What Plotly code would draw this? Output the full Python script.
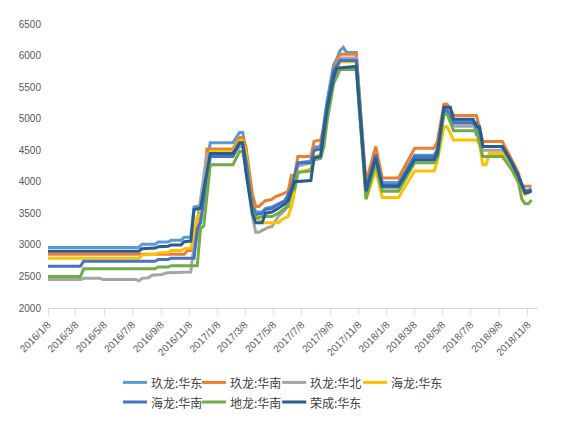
import plotly.graph_objects as go

# weekly prices, kept as (date, value) breakpoints
jiulong_east = [
    ("2016-01-08", 2960), ("2016-07-22", 2960), ("2016-07-29", 3010), ("2016-08-26", 3010),
    ("2016-09-02", 3045), ("2016-09-23", 3045), ("2016-09-30", 3075), ("2016-10-21", 3075),
    ("2016-10-28", 3120), ("2016-11-11", 3120), ("2016-11-18", 3600), ("2016-12-02", 3620),
    ("2016-12-23", 4620), ("2017-02-10", 4620), ("2017-02-24", 4780), ("2017-03-03", 4780),
    ("2017-03-10", 4500), ("2017-03-24", 3700), ("2017-03-31", 3520), ("2017-04-14", 3520),
    ("2017-04-21", 3580), ("2017-05-05", 3600), ("2017-05-19", 3650), ("2017-06-02", 3700),
    ("2017-06-16", 3850), ("2017-06-30", 4300), ("2017-07-28", 4330), ("2017-08-04", 4550),
    ("2017-08-18", 4560), ("2017-08-25", 4900), ("2017-09-01", 5280), ("2017-09-15", 5850),
    ("2017-09-22", 5950), ("2017-09-29", 6080), ("2017-10-06", 6130), ("2017-10-13", 6050),
    ("2017-11-03", 6050), ("2017-11-24", 3900), ("2017-12-15", 4430), ("2017-12-29", 3990),
    ("2018-02-02", 3990), ("2018-03-09", 4420), ("2018-04-20", 4420), ("2018-04-27", 4520),
    ("2018-05-11", 5150), ("2018-05-18", 5150), ("2018-06-01", 4950), ("2018-07-13", 4950),
    ("2018-07-20", 4750), ("2018-07-27", 4750), ("2018-08-03", 4560), ("2018-09-14", 4560),
    ("2018-10-05", 4280), ("2018-10-19", 4080), ("2018-11-02", 3840), ("2018-11-16", 3880),
]
jiulong_south = [
    ("2016-01-08", 2850), ("2016-10-28", 2850), ("2016-11-04", 2910), ("2016-11-18", 2910),
    ("2016-12-02", 3400), ("2016-12-16", 4520), ("2017-02-10", 4520), ("2017-02-24", 4700),
    ("2017-03-03", 4700), ("2017-03-10", 4550), ("2017-03-24", 3800), ("2017-03-31", 3610),
    ("2017-04-07", 3610), ("2017-04-14", 3660), ("2017-04-21", 3700), ("2017-05-05", 3720),
    ("2017-05-12", 3760), ("2017-05-26", 3800), ("2017-06-09", 3850), ("2017-06-16", 4100),
    ("2017-06-23", 4100), ("2017-06-30", 4400), ("2017-07-28", 4400), ("2017-08-04", 4640),
    ("2017-08-18", 4660), ("2017-08-25", 4850), ("2017-09-01", 5200), ("2017-09-15", 5750),
    ("2017-09-22", 5930), ("2017-09-29", 6020), ("2017-11-03", 6020), ("2017-11-24", 3990),
    ("2017-12-15", 4560), ("2017-12-29", 4060), ("2018-02-02", 4060), ("2018-03-09", 4530),
    ("2018-04-20", 4530), ("2018-04-27", 4640), ("2018-05-11", 5230), ("2018-05-18", 5230),
    ("2018-06-01", 5050), ("2018-07-20", 5050), ("2018-08-03", 4640), ("2018-09-14", 4640),
    ("2018-10-05", 4330), ("2018-10-19", 4140), ("2018-10-26", 3930), ("2018-11-16", 3930),
]
jiulong_north = [
    ("2016-01-08", 2450), ("2016-03-18", 2450), ("2016-03-25", 2470), ("2016-04-29", 2470),
    ("2016-05-06", 2450), ("2016-07-15", 2450), ("2016-07-22", 2430), ("2016-07-29", 2470),
    ("2016-08-12", 2480), ("2016-08-19", 2520), ("2016-09-09", 2530), ("2016-09-23", 2560),
    ("2016-11-11", 2570), ("2016-11-18", 3000), ("2016-12-16", 4450), ("2017-02-10", 4450),
    ("2017-02-24", 4550), ("2017-03-03", 4550), ("2017-03-10", 4200), ("2017-03-24", 3450),
    ("2017-03-31", 3200), ("2017-04-07", 3200), ("2017-04-14", 3230), ("2017-04-28", 3280),
    ("2017-05-05", 3290), ("2017-05-19", 3450), ("2017-06-02", 3550), ("2017-06-16", 3800),
    ("2017-06-30", 4250), ("2017-07-28", 4300), ("2017-08-04", 4500), ("2017-08-18", 4520),
    ("2017-08-25", 4800), ("2017-09-01", 5150), ("2017-09-15", 5700), ("2017-09-29", 5960),
    ("2017-11-03", 5960), ("2017-11-24", 3800), ("2017-12-15", 4350), ("2017-12-29", 3900),
    ("2018-02-02", 3900), ("2018-03-09", 4380), ("2018-04-20", 4380), ("2018-04-27", 4480),
    ("2018-05-11", 5080), ("2018-05-18", 5080), ("2018-06-01", 4880), ("2018-07-20", 4880),
    ("2018-08-03", 4500), ("2018-09-14", 4500), ("2018-10-05", 4250), ("2018-10-19", 4060),
    ("2018-11-02", 3830), ("2018-11-16", 3850),
]
hailong_east = [
    ("2016-01-08", 2790), ("2016-07-22", 2790), ("2016-07-29", 2840), ("2016-08-26", 2850),
    ("2016-09-02", 2870), ("2016-09-23", 2880), ("2016-09-30", 2910), ("2016-10-21", 2910),
    ("2016-10-28", 2940), ("2016-11-11", 2950), ("2016-11-25", 3450), ("2016-12-02", 3480),
    ("2016-12-23", 4480), ("2017-02-10", 4480), ("2017-02-24", 4650), ("2017-03-03", 4650),
    ("2017-03-10", 4450), ("2017-03-24", 3600), ("2017-03-31", 3450), ("2017-04-14", 3350),
    ("2017-05-19", 3350), ("2017-05-26", 3400), ("2017-06-09", 3450), ("2017-06-16", 3600),
    ("2017-06-23", 3850), ("2017-06-30", 4150), ("2017-07-28", 4200), ("2017-08-04", 4400),
    ("2017-08-18", 4420), ("2017-08-25", 4650), ("2017-09-01", 5050), ("2017-09-15", 5650),
    ("2017-09-29", 5900), ("2017-11-03", 5900), ("2017-11-24", 3720), ("2017-12-15", 4200),
    ("2017-12-29", 3750), ("2018-02-02", 3750), ("2018-03-09", 4170), ("2018-04-20", 4170),
    ("2018-04-27", 4330), ("2018-05-11", 4870), ("2018-05-18", 4870), ("2018-06-01", 4660),
    ("2018-07-20", 4660), ("2018-07-27", 4600), ("2018-08-03", 4270), ("2018-08-10", 4270),
    ("2018-08-17", 4450), ("2018-09-14", 4450), ("2018-10-05", 4180), ("2018-10-19", 4000),
    ("2018-11-02", 3800), ("2018-11-16", 3850),
]
hailong_south = [
    ("2016-01-08", 2660), ("2016-03-18", 2660), ("2016-03-25", 2740), ("2016-08-26", 2740),
    ("2016-09-02", 2770), ("2016-09-23", 2770), ("2016-09-30", 2790), ("2016-11-18", 2790),
    ("2016-11-25", 3250), ("2016-12-02", 3350), ("2016-12-23", 4400), ("2017-02-10", 4400),
    ("2017-02-24", 4600), ("2017-03-03", 4600), ("2017-03-10", 4350), ("2017-03-24", 3600),
    ("2017-03-31", 3480), ("2017-04-14", 3500), ("2017-04-21", 3560), ("2017-05-05", 3580),
    ("2017-05-19", 3640), ("2017-06-02", 3700), ("2017-06-16", 3900), ("2017-06-30", 4300),
    ("2017-07-28", 4300), ("2017-08-04", 4500), ("2017-08-18", 4520), ("2017-08-25", 4850),
    ("2017-09-01", 5200), ("2017-09-15", 5750), ("2017-09-29", 5920), ("2017-11-03", 5920),
    ("2017-11-24", 3880), ("2017-12-15", 4430), ("2017-12-29", 3950), ("2018-02-02", 3950),
    ("2018-03-09", 4400), ("2018-04-20", 4400), ("2018-04-27", 4500), ("2018-05-11", 5120),
    ("2018-05-18", 5120), ("2018-06-01", 4930), ("2018-07-20", 4930), ("2018-08-03", 4560),
    ("2018-09-14", 4560), ("2018-10-05", 4290), ("2018-10-19", 4090), ("2018-11-02", 3850),
    ("2018-11-16", 3880),
]
dilong_south = [
    ("2016-01-08", 2500), ("2016-03-18", 2500), ("2016-03-25", 2620), ("2016-08-26", 2620),
    ("2016-09-02", 2650), ("2016-09-23", 2650), ("2016-09-30", 2670), ("2016-11-25", 2670),
    ("2016-12-02", 3260), ("2016-12-09", 3300), ("2016-12-23", 4270), ("2017-02-10", 4270),
    ("2017-02-24", 4480), ("2017-03-03", 4480), ("2017-03-10", 4200), ("2017-03-24", 3550),
    ("2017-03-31", 3420), ("2017-04-14", 3450), ("2017-05-05", 3450), ("2017-05-19", 3500),
    ("2017-06-02", 3580), ("2017-06-09", 3600), ("2017-06-16", 3850), ("2017-06-23", 3880),
    ("2017-06-30", 4150), ("2017-07-28", 4170), ("2017-08-04", 4350), ("2017-08-18", 4370),
    ("2017-08-25", 4550), ("2017-09-01", 4950), ("2017-09-15", 5550), ("2017-09-29", 5780),
    ("2017-11-03", 5780), ("2017-11-24", 3730), ("2017-12-15", 4300), ("2017-12-29", 3850),
    ("2018-02-02", 3850), ("2018-03-09", 4300), ("2018-04-20", 4300), ("2018-04-27", 4380),
    ("2018-05-11", 5070), ("2018-05-18", 5070), ("2018-06-01", 4810), ("2018-07-20", 4810),
    ("2018-08-03", 4400), ("2018-09-14", 4400), ("2018-10-05", 4190), ("2018-10-19", 3990),
    ("2018-10-26", 3730), ("2018-11-02", 3650), ("2018-11-09", 3650), ("2018-11-16", 3710),
]
rongcheng_east = [
    ("2016-01-08", 2900), ("2016-07-22", 2900), ("2016-07-29", 2940), ("2016-08-26", 2950),
    ("2016-09-02", 2970), ("2016-09-23", 2980), ("2016-09-30", 3000), ("2016-10-21", 3000),
    ("2016-10-28", 3050), ("2016-11-11", 3060), ("2016-11-18", 3560), ("2016-12-02", 3580),
    ("2016-12-23", 4450), ("2017-02-10", 4450), ("2017-02-24", 4620), ("2017-03-03", 4620),
    ("2017-03-10", 4150), ("2017-03-24", 3500), ("2017-03-31", 3350), ("2017-04-14", 3350),
    ("2017-04-21", 3500), ("2017-05-05", 3520), ("2017-05-19", 3580), ("2017-06-02", 3650),
    ("2017-06-09", 3700), ("2017-06-23", 4000), ("2017-07-28", 4020), ("2017-08-04", 4380),
    ("2017-08-18", 4400), ("2017-08-25", 4780), ("2017-09-01", 5150), ("2017-09-15", 5650),
    ("2017-09-22", 5800), ("2017-11-03", 5830), ("2017-11-24", 3850), ("2017-12-15", 4380),
    ("2017-12-29", 3930), ("2018-02-02", 3930), ("2018-03-09", 4350), ("2018-04-20", 4350),
    ("2018-04-27", 4450), ("2018-05-11", 5180), ("2018-05-25", 5180), ("2018-06-01", 4990),
    ("2018-07-13", 4990), ("2018-07-20", 4870), ("2018-07-27", 4870), ("2018-08-03", 4560),
    ("2018-09-14", 4560), ("2018-10-05", 4300), ("2018-10-19", 4080), ("2018-11-02", 3820),
    ("2018-11-09", 3830), ("2018-11-16", 3860),
]

series_names = ["玖龙:华东", "玖龙:华南", "玖龙:华北", "海龙:华东", "海龙:华南", "地龙:华南", "荣成:华东"]
series_data = [jiulong_east, jiulong_south, jiulong_north, hailong_east,
               hailong_south, dilong_south, rongcheng_east]
colors = ["#5B9BD5", "#ED7D31", "#A5A5A5", "#FFC000", "#4472C4", "#70AD47", "#255E91"]

tick_dates = ["2016-01-08", "2016-03-08", "2016-05-08", "2016-07-08", "2016-09-08", "2016-11-08",
              "2017-01-08", "2017-03-08", "2017-05-08", "2017-07-08", "2017-09-08", "2017-11-08",
              "2018-01-08", "2018-03-08", "2018-05-08", "2018-07-08", "2018-09-08", "2018-11-08"]
tick_text = ["2016/1/8", "2016/3/8", "2016/5/8", "2016/7/8", "2016/9/8", "2016/11/8",
             "2017/1/8", "2017/3/8", "2017/5/8", "2017/7/8", "2017/9/8", "2017/11/8",
             "2018/1/8", "2018/3/8", "2018/5/8", "2018/7/8", "2018/9/8", "2018/11/8"]

fig = go.Figure()
for i, (name, pts) in enumerate(zip(series_names, series_data)):
    fig.add_trace(go.Scatter(
        x=[p[0] for p in pts], y=[p[1] for p in pts],
        mode="lines", name=name, showlegend=False,
        line=dict(color=colors[i], width=3),
    ))

# legend drawn by hand (Excel-style compact: 4 entries per row, short swatches)
col_x = [0.153, 0.314, 0.478, 0.643]
row_y = [-0.262, -0.331]
for i, name in enumerate(series_names):
    x0 = col_x[i % 4]
    y0 = row_y[i // 4]
    fig.add_shape(type="line", xref="paper", yref="paper",
                  x0=x0, x1=x0 + 0.049, y0=y0, y1=y0,
                  line=dict(color=colors[i], width=3))
    fig.add_annotation(xref="paper", yref="paper", x=x0 + 0.053, y=y0,
                       text=name, showarrow=False, xanchor="left", yanchor="middle",
                       font=dict(family="Noto Sans CJK SC", size=12, color="#404040"))

# the page body adds ~8px, margins account for it
fig.update_layout(
    width=568, height=427,
    margin=dict(l=37, r=38, t=10, b=127),
    paper_bgcolor="white", plot_bgcolor="white",
    font=dict(family="Liberation Sans", size=10, color="#595959"),
    xaxis=dict(range=["2016-01-08", "2018-11-30"], tickvals=tick_dates, ticktext=tick_text,
               tickangle=-45, showgrid=False, showline=True, linecolor="#D9D9D9",
               ticks="outside", ticklen=6, tickcolor="#D9D9D9", zeroline=False),
    yaxis=dict(range=[2000, 6500], dtick=500, showgrid=False, showline=False,
               zeroline=False, ticks="", ticklabelstandoff=6),
)

fig.write_html("out.html")
